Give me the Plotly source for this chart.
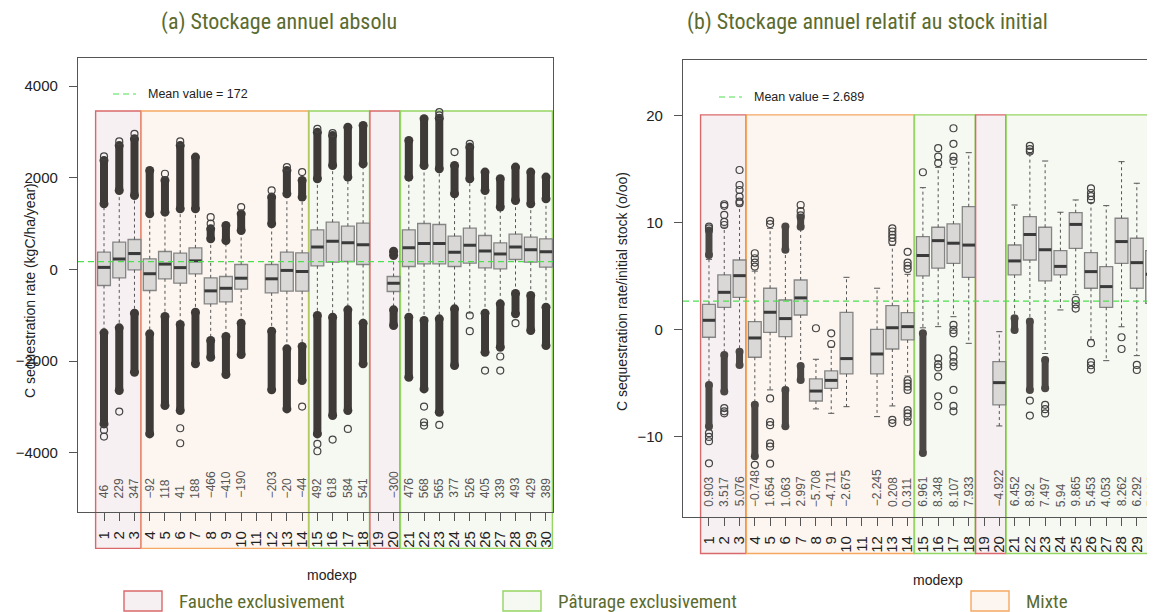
import plotly.graph_objects as go

# page body keeps an 8px margin, so the figure is drawn 8px smaller and shifted
OFF = 8
W, H = 1155 - OFF, 612 - OFF


def PX(x):
    return (x - OFF) / W


def PY(y):
    return 1 - (y - OFF) / H


modexp = list(range(1, 31))

# management blocks of modexp
groups = [(1, 3, 'Fauche'), (4, 14, 'Mixte'), (15, 18, 'Paturage'),
          (19, 20, 'Fauche'), (21, 30, 'Paturage')]

# ---- (a) absolute annual storage (kgC/ha/year) ----
abs_mean = 172
abs_med = [46, 229, 347, -92, 118, 41, 188, -466, -410, -190, None, -203, -20, -44,
           492, 618, 584, 541, None, -300, 476, 568, 565, 377, 526, 405, 339, 493, 429, 389]
abs_q3 = [377, 596, 654, 233, 392, 356, 472, -182, -153, 109, None, 109, 377, 364,
          865, 1032, 945, 1010, None, -153, 865, 1003, 981, 727, 901, 741, 581, 770, 705, 669]
abs_q1 = [-349, -182, -7, -458, -203, -298, -95, -749, -705, -429, None, -509, -473, -473,
          80, 160, 174, 109, None, -480, 65, 124, 124, 65, 138, 36, 14, 218, 160, 50]
abs_whi = [1432, 1723, 1614, 1214, 1250, 1323, 1323, 669, 632, 851, None, 996, 1650, 1578,
           1978, 2268, 2014, 2305, None, 305, 2014, 2268, 2196, 1650, 1978, 1723, 1360, 1505, 1432, 1541]
abs_wlo = [-1381, -1272, -953, -1403, -1025, -1200, -931, -1549, -1461, -1171, None, -1345, -1730, -1679,
           -1003, -1040, -880, -1171, None, -880, -1040, -1112, -1076, -858, -950, -953, -749, -523, -567, -822]
abs_up_band = [[1432, 2377], [1723, 2704], [1614, 2850], [1214, 2159], [1250, 1941], [1323, 2704],
               [1323, 2450], [669, 887], [632, 960], [851, 1214], None, [996, 1578], [1650, 2159],
               [1578, 1941], [1978, 2995], [2268, 2923], [2014, 3104], [2305, 3141], None, [305, 400],
               [2014, 2813], [2268, 3286], [2196, 3300], [1650, 2268], [1978, 2668], [1723, 2123],
               [1360, 1978], [1505, 2232], [1432, 2123], [1541, 2014]]
abs_lo_band = [[-1381, -3366], [-1272, -2639], [-953, -2239], [-1403, -3584], [-1025, -2966],
               [-1200, -3075], [-931, -2057], [-1549, -1912], [-1461, -2290], [-1171, -1854], None,
               [-1345, -2624], [-1730, -3039], [-1679, -2421], [-1003, -3584], [-1040, -3184],
               [-880, -3075], [-1171, -2057], None, [-880, -1221], [-1040, -2348], [-1112, -2603],
               [-1076, -3112], [-858, -2094], None, [-953, -1803], [-749, -1694], [-523, -967],
               [-567, -1330], [-822, -1658]]
abs_up_pts = [[2465], [2792], [2959], [], [2087], [2792], [], [1000, 1141], [], [1360], [], [1723],
              [2232], [2123], [3068], [2973], [], [], [], [], [], [], [3360, 3431], [2559], [2741],
              [], [], [], [], []]
abs_lo_pts = [[-3497, -3642], [-3097], [], [], [], [-3461, -3788], [], [], [], [], [], [], [], [-2988],
              [-3802, -3963], [-3708], [-3475], [], [], [], [], [-2988, -3330, -3402], [-3388], [],
              [-1003, -1345], [-2203], [-1897, -2203], [-1171], [], []]

# ---- (b) annual storage relative to initial stock (o/oo) ----
rel_mean = 2.689
rel_med = [0.903, 3.517, 5.076, -0.748, 1.654, 1.063, 2.997, -5.708, -4.711, -2.675, None, -2.245,
           0.208, 0.311, 6.961, 8.348, 8.107, 7.933, None, -4.922, 6.452, 8.92, 7.497, 5.94, 9.865,
           5.453, 4.053, 8.262, 6.292, 5.214]
rel_q3 = [2.40, 5.14, 6.54, 0.78, 3.90, 2.80, 4.67, -4.58, -3.83, 1.65, None, 0.06, 2.27, 1.62,
          8.72, 9.60, 9.91, 11.52, None, -2.96, 7.94, 10.59, 9.60, 7.41, 10.96, 7.23, 5.92, 10.44, 8.57, 7.41]
rel_q1 = [-0.68, 2.12, 3.05, -2.55, -0.22, -0.62, 1.40, -6.64, -5.45, -4.11, None, -4.11, -1.78, -0.93,
          5.05, 5.77, 6.23, 4.92, None, -7.01, 5.14, 6.54, 4.58, 5.14, 7.63, 3.90, 2.12, 6.23, 3.90, 2.49]
rel_whi = [6.6, 9.6, 11.6, 5.5, 9.5, 7.3, 9.5, -2.74, -1.6, 4.92, None, 3.90, 7.9, 5.2,
           13.3, 15.2, 15.2, 16.57, None, -0.16, 11.68, 16.5, 15.79, 11.0, 12.15, 11.9, 11.62, 15.73, 13.71, 14.39]
rel_wlo = [-5.0, -2.2, -1.9, -6.8, -5.6, -5.4, -3.2, -7.38, -7.79, -7.17, None, -8.1, -7.10, -4.3,
           0.2, 0.31, 1.24, -1.25, None, -8.97, 1.3, 1.0, -2.2, 1.87, 3.3, -0.9, -2.87, 0.3, -2.4, -3.58]
rel_up_band = [[7.0, 9.3], None, None, None, None, [7.49, 9.67], [9.65, 10.5], None, None, None, None,
               None, None, None, None, None, None, None, None, None, None, None, None, None, None,
               None, None, None, None, None]
rel_lo_band = [[-5.14, -9.03], [-2.34, -5.76], [-2.03, -3.27], [-7.0, -11.8], None, [-5.6, -9.0],
               [-3.36, -4.67], None, None, None, None, None, None, None, [-0.31, -11.5], None, None,
               None, None, None, [1.09, 0.0], [0.78, -5.6], [-2.8, -5.45], None, None, None, None,
               None, None, None]
rel_up_pts = [[9.5, 9.65], [9.81, 10.1, 10.75, 11.6, 11.75], [11.84, 12.0, 12.46, 13.08, 13.55, 14.95],
              [5.92, 6.3, 6.7, 7.17], [9.9, 10.2], [], [10.7, 11.1, 11.68], [0.16], [-1.31, -0.31], [],
              [], [], [8.25, 8.6, 8.9, 9.2, 9.5], [5.7, 6.0, 6.3, 7.3], [14.74], [15.6, 16.2, 16.99],
              [15.8, 16.2, 17.4, 18.85], [], [], [], [], [16.67, 16.9, 17.2], [], [], [],
              [12.15, 12.5, 12.8, 13.24], [], [], [], [15.1]]
rel_lo_pts = [[-9.65, -10.0, -10.4, -12.46], [-7.3, -7.6, -7.79], [], [-12.6],
              [-6.4, -8.6, -8.9, -10.6, -10.9, -12.5], [], [], [], [], [], [], [], [-8.4, -8.7],
              [-4.7, -5.0, -5.3, -5.6, -7.5, -7.8, -8.1, -8.6], [],
              [-2.65, -3.2, -3.5, -4.36, -6.2, -7.1],
              [0.47, 0.0, -0.31, -1.87, -2.5, -3.0, -3.4, -5.6, -7.1, -7.6], [], [], [], [],
              [-6.6, -8.0], [-7.0, -7.4, -7.8], [], [2.8, 2.4, 2.0], [-1.24, -3.0, -3.3, -3.7], [],
              [-0.68, -1.78], [-3.27, -3.74], []]

FILL = {'Fauche': '#f7f0f2', 'Mixte': '#fdf6f0', 'Paturage': '#f6f8f2'}
EDGE = {'Fauche': '#d9686a', 'Mixte': '#f5a862', 'Paturage': '#95d563'}
OLIVE = '#5b6b2f'
MEANCOL = '#4fe04f'
NARROW = 'Liberation Sans Narrow, Roboto Condensed, Arial Narrow, sans-serif'
BASE = 'Liberation Sans, Arial, Helvetica, sans-serif'

fig = go.Figure()
shapes, annotations = [], []


def dom(v, r):
    return (v - r[0]) / (r[1] - r[0])


def panel(xa, ya, xr, yr, med, q1, q3, wlo, whi, up_band, lo_band, up_pts, lo_pts,
          mean, rect_top, band_w, band_col, lab_y, fmt):
    idx = [k for k, v in enumerate(med) if v is not None]
    xs = [modexp[k] for k in idx]

    # dashed whiskers + caps
    wx, wy, cx, cy = [], [], [], []
    for k in idx:
        m = modexp[k]
        wx += [m, m, None, m, m, None]
        wy += [q3[k], whi[k], None, q1[k], wlo[k], None]
        cx += [m - 0.2, m + 0.2, None, m - 0.2, m + 0.2, None]
        cy += [whi[k], whi[k], None, wlo[k], wlo[k], None]
    fig.add_trace(go.Scatter(x=wx, y=wy, mode='lines', xaxis=xa, yaxis=ya,
                             line=dict(color='#555', width=1, dash='3px,3px'), hoverinfo='skip'))
    fig.add_trace(go.Scatter(x=cx, y=cy, mode='lines', xaxis=xa, yaxis=ya,
                             line=dict(color='#555', width=1), hoverinfo='skip'))

    fig.add_trace(go.Box(x=xs, q1=[q1[k] for k in idx], median=[med[k] for k in idx],
                         q3=[q3[k] for k in idx], lowerfence=[q1[k] for k in idx],
                         upperfence=[q3[k] for k in idx], xaxis=xa, yaxis=ya, width=0.84,
                         fillcolor='#d9d8d6', line=dict(color='#858585', width=1.3),
                         boxpoints=False, whiskerwidth=0))

    mx, my = [], []
    for k in idx:
        m = modexp[k]
        mx += [m - 0.41, m + 0.41, None]
        my += [med[k], med[k], None]
    fig.add_trace(go.Scatter(x=mx, y=my, mode='lines', xaxis=xa, yaxis=ya,
                             line=dict(color='#3a3a3a', width=3), hoverinfo='skip'))

    # dense outlier columns
    bx, by = [], []
    for k in idx:
        for b in (up_band[k], lo_band[k]):
            if b:
                bx += [modexp[k], modexp[k], None]
                by += [b[0], b[1], None]
    fig.add_trace(go.Scatter(x=bx, y=by, mode='lines+markers', xaxis=xa, yaxis=ya,
                             line=dict(color=band_col, width=band_w),
                             marker=dict(size=band_w + 1, color=band_col), hoverinfo='skip'))

    px, py = [], []
    for k in idx:
        for v in up_pts[k] + lo_pts[k]:
            px.append(modexp[k])
            py.append(v)
    fig.add_trace(go.Scatter(x=px, y=py, mode='markers', xaxis=xa, yaxis=ya,
                             marker=dict(symbol='circle-open', size=7, color='#444',
                                         line=dict(width=1.2)), hoverinfo='skip'))

    fig.add_trace(go.Scatter(x=list(xr), y=[mean, mean], mode='lines', xaxis=xa, yaxis=ya,
                             line=dict(color=MEANCOL, width=1.2, dash='6px,4px'), hoverinfo='skip'))

    for first, last, kind in groups:
        shapes.append(dict(type='rect', xref=xa + ' domain', yref=ya + ' domain',
                           x0=dom(first - 0.55, xr), x1=dom(last + 0.42, xr),
                           y0=-0.08, y1=dom(rect_top, yr), layer='below',
                           fillcolor=FILL[kind], line=dict(color=EDGE[kind], width=1.4)))

    for k in idx:
        annotations.append(dict(x=modexp[k], y=lab_y, xref=xa, yref=ya + ' domain',
                                text=fmt(med[k]).replace('-', '\u2212'), textangle=-90,
                                showarrow=False, xanchor='center', yanchor='bottom',
                                font=dict(size=12, color='#555', family=BASE)))


xr1, yr1 = [-0.706, 30.46], [-5287, 4622]
xr2, yr2 = [-0.70, 30.19], [-17.48, 25.23]

panel('x', 'y', xr1, yr1, abs_med, abs_q1, abs_q3, abs_wlo, abs_whi, abs_up_band, abs_lo_band,
      abs_up_pts, abs_lo_pts, abs_mean, 3455, 8, '#3d3a38', 0.026, lambda v: str(int(v)))
panel('x2', 'y2', xr2, yr2, rel_med, rel_q1, rel_q3, rel_wlo, rel_whi, rel_up_band, rel_lo_band,
      rel_up_pts, rel_lo_pts, rel_mean, 20.1, 7, '#4a4745', 0.018, lambda v: f'{v:g}')

axis_style = dict(showline=True, mirror=True, linecolor='#555', linewidth=1.3, ticks='outside',
                  ticklen=8, tickcolor='#555', showgrid=False, zeroline=False,
                  tickfont=dict(size=15, color='#222', family=BASE))

fig.update_layout(
    width=W, height=H, margin=dict(l=0, r=0, t=0, b=0), showlegend=False,
    paper_bgcolor='white', plot_bgcolor='rgba(0,0,0,0)',
    xaxis=dict(domain=[PX(78), PX(553)], range=xr1, tickvals=modexp, ticklabelstandoff=4,
               ticktext=[str(m) for m in modexp], tickangle=-90, anchor='y', **axis_style),
    yaxis=dict(domain=[PY(512), PY(57.5)], range=yr1, tickvals=[-4000, -2000, 0, 2000, 4000],
               ticktext=['\u22124000', '\u22122000', '0', '2000', '4000'], anchor='x',
               ticklabelstandoff=8, **axis_style),
    xaxis2=dict(domain=[PX(683), 1.0], range=xr2, tickvals=modexp, ticklabelstandoff=4,
                ticktext=[str(m) for m in modexp], tickangle=-90, anchor='y2', **axis_style),
    yaxis2=dict(domain=[PY(517), PY(60)], range=yr2, tickvals=[-10, 0, 10, 20],
                ticktext=['\u221210', '0', '10', '20'], anchor='x2', ticklabelstandoff=8,
                **axis_style),
)

# titles
for txt, xc in [('(a) Stockage annuel absolu', 279), ('(b) Stockage annuel relatif au stock initial', 867)]:
    annotations.append(dict(x=PX(xc), y=PY(22), xref='paper', yref='paper', text=txt,
                            showarrow=False, xanchor='center', yanchor='middle',
                            font=dict(size=22, color=OLIVE, family=NARROW)))

# axis titles
for txt, xc, yc in [('C sequestration rate (kgC/ha/year)', 30, 291),
                    ('C sequestration rate/initial stock (o/oo)', 622, 292)]:
    annotations.append(dict(x=PX(xc), y=PY(yc), xref='paper', yref='paper', text=txt,
                            textangle=-90, showarrow=False, xanchor='center', yanchor='middle',
                            font=dict(size=14, color='#222', family=BASE)))
for xc, yc in [(332, 575), (938, 580)]:
    annotations.append(dict(x=PX(xc), y=PY(yc), xref='paper', yref='paper', text='modexp',
                            showarrow=False, xanchor='center', yanchor='middle',
                            font=dict(size=14, color='#222', family=BASE)))

# mean value keys
for x0, x1, yc, tx, val in [(113, 136, 94, 146, abs_mean), (719, 742, 97, 752, rel_mean)]:
    shapes.append(dict(type='line', xref='paper', yref='paper', x0=PX(x0), x1=PX(x1),
                       y0=PY(yc), y1=PY(yc), line=dict(color=MEANCOL, width=1.2, dash='6px,4px')))
    annotations.append(dict(x=PX(tx), y=PY(yc), xref='paper', yref='paper',
                            text=f'Mean value = {val}', showarrow=False, xanchor='left',
                            yanchor='middle', font=dict(size=12.5, color='#222', family=BASE)))

# management legend
for kind, label, x0 in [('Fauche', 'Fauche exclusivement', 124), ('Paturage', 'Pâturage exclusivement', 503),
                        ('Mixte', 'Mixte', 971)]:
    shapes.append(dict(type='rect', xref='paper', yref='paper', x0=PX(x0), x1=PX(x0 + 38),
                       y0=PY(611), y1=PY(591), fillcolor=FILL[kind],
                       line=dict(color=EDGE[kind], width=1.4)))
    annotations.append(dict(x=PX(x0 + 53), y=PY(601), xref='paper', yref='paper', text=label,
                            showarrow=False, xanchor='left', yanchor='middle',
                            font=dict(size=19, color=OLIVE, family=NARROW)))

fig.update_layout(shapes=shapes, annotations=annotations)
fig.write_html("out.html")
